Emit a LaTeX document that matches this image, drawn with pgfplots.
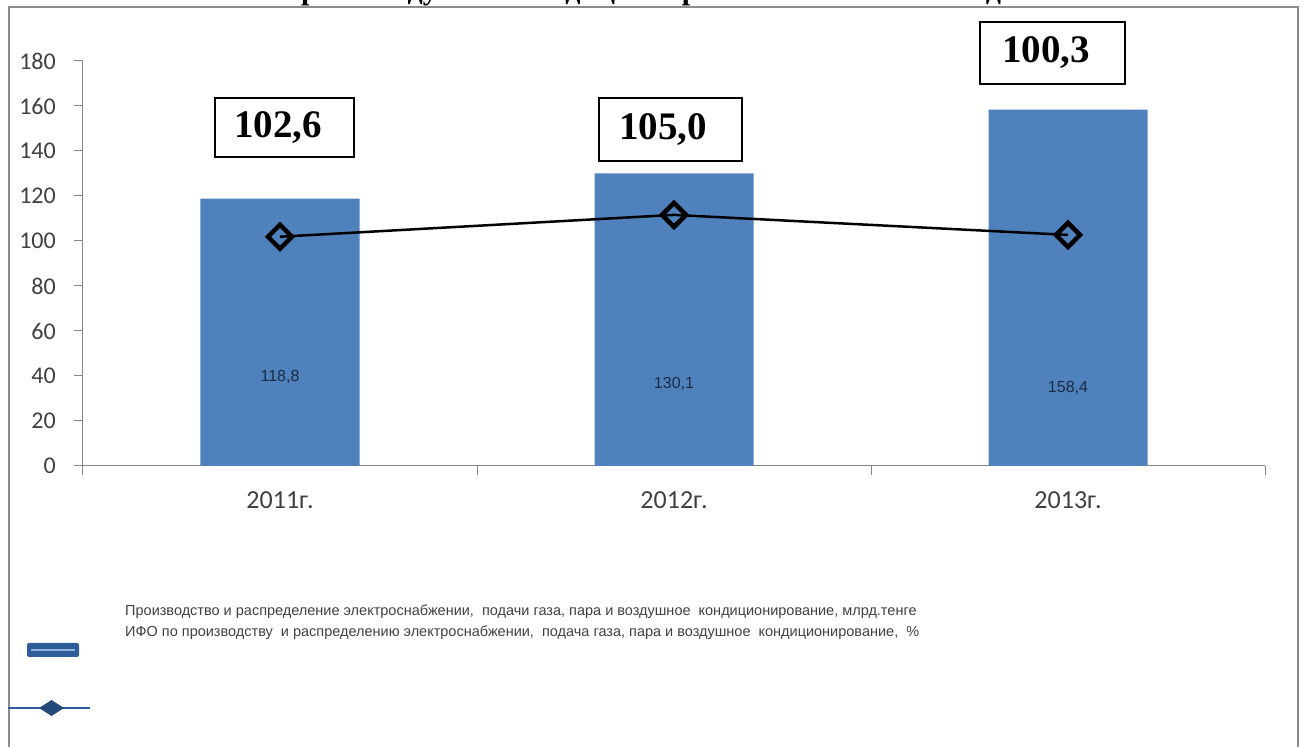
\documentclass[border=0pt]{standalone}
\usepackage{fontspec}
\setmainfont{Carlito}
\newfontfamily\tnr{Liberation Serif}
\newfontfamily\arial{Liberation Sans}
\usepackage{pgfplots}
\pgfplotsset{compat=1.18}

\definecolor{barblue}{HTML}{4F81BD}
\definecolor{axisgray}{HTML}{868686}
\definecolor{labelgray}{HTML}{404040}
\definecolor{framegray}{HTML}{8C8C8C}
\definecolor{inlabel}{HTML}{1C2C44}
\definecolor{legline}{HTML}{2E5C9A}
\definecolor{legmark}{HTML}{244A7C}

\begin{document}
\begin{tikzpicture}[x=1pt,y=1pt]
\useasboundingbox (0pt,0pt) rectangle (1304pt,747pt);

% outer chart frame (bottom edge lies below the page)
\draw[framegray, line width=2pt] (9pt,-10pt) -- (9pt,740pt) -- (1298pt,740pt) -- (1298pt,-10pt);

% title, cut off by the top of the page
\node[anchor=base, font=\tnr\bfseries\fontsize{30}{34}\selectfont] at (650pt,747pt)
  {пара и воздушное кондиционирование в 2011-2013 годах};

\begin{axis}[
    at={(83pt,281pt)}, anchor=south west,
    scale only axis,
    width=1182pt, height=405pt,
    xmin=-0.5, xmax=2.5,
    ymin=0, ymax=180,
    axis x line=bottom, axis y line=left,
    axis line style={-, draw=axisgray, line width=1pt},
    tick align=outside,
    ytick={0,20,...,180},
    ytick style={draw=axisgray, line width=1pt},
    major tick length=9pt,
    yticklabel style={font=\fontsize{24}{28}\selectfont, text=labelgray, inner sep=0pt, xshift=-18pt},
    /pgf/number format/assume math mode=true,
    xtick={-0.5,0.5,1.5,2.5},
    xticklabels={},
    xtick style={draw=axisgray, line width=1pt},
    extra x ticks={0,1,2},
    extra x tick labels={2011г.,2012г.,2013г.},
    extra x tick style={major tick length=0pt,
        xticklabel style={font=\fontsize{26}{30}\selectfont, text=labelgray, yshift=-22pt}},
    clip=false,
]
\addplot[ybar, bar width=159pt, fill=barblue, draw=none]
    coordinates {(0,118.8)(1,130.1)(2,158.4)};
\addplot[black, line width=2.5pt, mark=square, mark size=8.5pt,
    mark options={rotate=45, line width=4.5pt, draw=black, fill=none}]
    coordinates {(0,101.9)(1,111.6)(2,102.7)};

\node[font=\arial\fontsize{16}{19}\selectfont, text=inlabel] at (axis cs:0,39.5) {118,8};
\node[font=\arial\fontsize{16}{19}\selectfont, text=inlabel] at (axis cs:1,36.5) {130,1};
\node[font=\arial\fontsize{16}{19}\selectfont, text=inlabel] at (axis cs:2,34.5) {158,4};
\end{axis}

% growth index boxes
\draw[black, line width=1.6pt] (215pt,649pt) rectangle (354pt,590pt);
\node[font=\tnr\bfseries\fontsize{39}{44}\selectfont] at (278pt,619pt) {102,6};
\draw[black, line width=1.6pt] (599pt,649pt) rectangle (742pt,586pt);
\node[font=\tnr\bfseries\fontsize{39}{44}\selectfont] at (663pt,617pt) {105,0};
\draw[black, line width=1.6pt] (980pt,725pt) rectangle (1125pt,663pt);
\node[font=\tnr\bfseries\fontsize{39}{44}\selectfont] at (1046pt,694pt) {100,3};

% legend
\node[anchor=west, inner sep=0pt, font=\arial\fontsize{14.5}{17}\selectfont, text=labelgray] at (125pt,135pt)
  {Производство и распределение электроснабжении,\ \ подачи газа, пара и воздушное\ \ кондиционирование, млрд.тенге};
\node[anchor=west, inner sep=0pt, font=\arial\fontsize{14.5}{17}\selectfont, text=labelgray] at (125pt,114pt)
  {ИФО по производству\ \ и распределению электроснабжении,\ \ подача газа, пара и воздушное\ \ кондиционирование,\ \ \%};
\fill[rounded corners=2pt, legline] (27pt,104pt) rectangle (79pt,90pt);
\draw[barblue!60!white, line width=1.5pt] (31pt,97pt) -- (75pt,97pt);
\draw[legline, line width=2pt] (8pt,39pt) -- (90pt,39pt);
\fill[legmark] (39pt,39pt) -- (51.5pt,47pt) -- (64pt,39pt) -- (51.5pt,31pt) -- cycle;
\end{tikzpicture}
\end{document}
